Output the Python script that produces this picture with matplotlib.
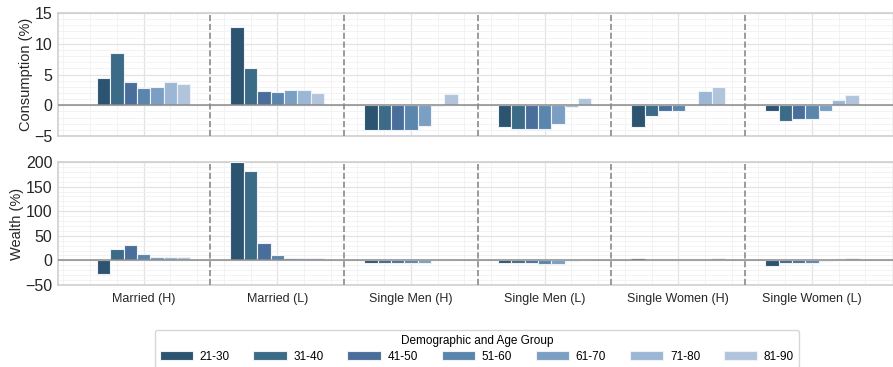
import numpy as np
import matplotlib
matplotlib.use("Agg")
from matplotlib import pyplot as plt
from matplotlib.ticker import AutoMinorLocator

plt.rcParams["font.family"] = ["Liberation Sans", "DejaVu Sans"]

groups = ["Married (H)", "Married (L)", "Single Men (H)", "Single Men (L)",
          "Single Women (H)", "Single Women (L)"]
ages = ["21-30", "31-40", "41-50", "51-60", "61-70", "71-80", "81-90"]

# rows = demographic group, columns = age group
consumption = np.array([
    [4.5, 8.5, 3.8, 2.8, 2.9, 3.8, 3.4],
    [12.7, 6.1, 2.3, 2.2, 2.4, 2.4, 2.0],
    [-4.1, -4.1, -4.1, -4.0, -3.3, -0.2, 1.8],
    [-3.6, -3.9, -3.9, -3.9, -3.1, -0.3, 1.1],
    [-3.6, -1.7, -0.9, -1.0, 0.0, 2.3, 3.0],
    [-1.0, -2.6, -2.3, -2.3, -0.9, 0.9, 1.6],
])
wealth = np.array([
    [-27, 23, 32, 13, 6, 6, 6],
    [199, 182, 35, 11, 5, 5, 5],
    [-5, -5, -5, -5, -6, 0, 2],
    [-6, -6, -6, -7, -7, -1, 1],
    [5, 1, 0, 0, 0, 3, 5],
    [-12, -6, -5, -5, -2, 2, 4],
])

colors = ["#2c5470", "#3b6b87", "#4a6e9b", "#5a86ad", "#7a9fc3", "#9bb7d5", "#b1c4dc"]

fig = plt.figure(figsize=(8.93, 3.67), dpi=100)
ax1 = fig.add_axes([0.065, 0.6294, 0.94, 0.3352])
ax2 = fig.add_axes([0.065, 0.2234, 0.94, 0.3352])

x = np.arange(len(groups))
width = 0.1

def draw(ax, data, ylabel, ylim, yticks):
    ax.set_facecolor("white")
    for i, age in enumerate(ages):
        ax.bar(x + (i - 3) * width, data[:, i], width, color=colors[i],
               edgecolor="#eef2f6", linewidth=0.8, label=age, zorder=3)
    ax.axhline(0, color="#8a8a8a", lw=1.1, zorder=4)
    for b in x[:-1] + 0.5:
        ax.axvline(b, color="#8a8a8a", ls="--", lw=1.2, zorder=4)
    ax.set_xlim(-0.64, 5.64)
    ax.set_ylim(*ylim)
    ax.set_yticks(yticks)
    ax.set_xticks(x)
    ax.xaxis.set_minor_locator(AutoMinorLocator(5))
    ax.yaxis.set_minor_locator(AutoMinorLocator(5))
    ax.grid(which="major", color="#e3e3e3", lw=0.9, zorder=0)
    ax.grid(which="minor", color="#f1f1f1", lw=0.6, zorder=0)
    ax.tick_params(which="both", length=0)
    ax.tick_params(axis="y", labelsize=11.5, colors="#262626", pad=4)
    ax.tick_params(axis="x", labelsize=9, colors="#262626", pad=6)
    for s in ax.spines.values():
        s.set_color("#cccccc")
        s.set_linewidth(1.1)
    ax.set_ylabel(ylabel, fontsize=10.5, color="#262626", labelpad=1)

draw(ax1, consumption, "Consumption (%)", (-5, 15), [-5, 0, 5, 10, 15])
draw(ax2, wealth, "Wealth (%)", (-50, 200), [-50, 0, 50, 100, 150, 200])
ax1.set_xticklabels([])
ax2.set_xticklabels(groups)

handles, labels = ax2.get_legend_handles_labels()
leg = fig.legend(handles, labels, title="Demographic and Age Group", ncol=7,
                 loc="upper center", bbox_to_anchor=(0.534, 0.101),
                 fontsize=8.5, title_fontsize=8.5, frameon=True,
                 handlelength=2.8, handleheight=0.8, handletextpad=0.6,
                 columnspacing=2.0, borderpad=0.4, labelspacing=0.3,
                 borderaxespad=0)
leg.get_frame().set_edgecolor("#cccccc")
leg._legend_box.sep = 3

fig.savefig("out.png", dpi=100)
